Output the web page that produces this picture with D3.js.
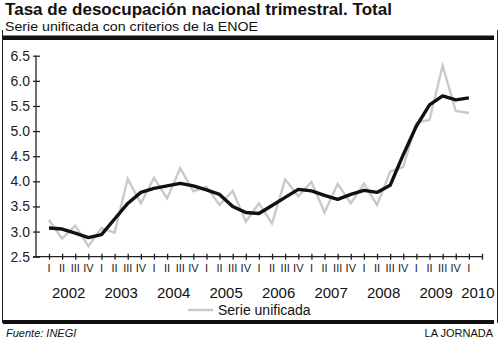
<!DOCTYPE html>
<html>
<head>
<meta charset="utf-8">
<script src="https://cdn.jsdelivr.net/npm/d3@7"></script>
<style>
  html, body { margin: 0; padding: 0; background: #fff; }
  svg { display: block; font-family: "Liberation Sans", Arial, Helvetica, sans-serif; }
</style>
</head>
<body>
<svg id="chart" width="500" height="340"></svg>
<script>
// Quarterly unemployment rate, 2002 Q1 – 2010 Q1
const years = ["2002", "2003", "2004", "2005", "2006", "2007", "2008", "2009", "2010"];
const quarterLabels = ["I", "II", "III", "IV"];

// Trend (seasonally smoothed) series, black line
const trendValues = [
  3.07, 3.05, 2.97, 2.88, 2.94, 3.25, 3.56, 3.78,
  3.86, 3.91, 3.96, 3.91, 3.83, 3.74, 3.50, 3.38,
  3.36, 3.52, 3.68, 3.84, 3.81, 3.72, 3.64, 3.74,
  3.82, 3.78, 3.92, 4.53, 5.10, 5.52, 5.70, 5.62,
  5.66
];

// Serie unificada (original quarterly figures), grey line
const seriesValues = [
  3.23, 2.86, 3.12, 2.71, 3.07, 2.98, 4.05, 3.56,
  4.07, 3.66, 4.26, 3.80, 3.89, 3.53, 3.81, 3.20,
  3.56, 3.16, 4.04, 3.70, 3.99, 3.38, 3.95, 3.56,
  3.95, 3.53, 4.19, 4.29, 5.17, 5.22, 6.30, 5.40,
  5.36
];

const yTicks = [2.5, 3.0, 3.5, 4.0, 4.5, 5.0, 5.5, 6.0, 6.5];
const legendLabel = "Serie unificada";
const titleText = "Tasa de desocupación nacional trimestral. Total";
const subtitleText = "Serie unificada con criterios de la ENOE";
const sourceText = "Fuente: INEGI";
const creditText = "LA JORNADA";

const svg = d3.select("#chart");

const nTicks = 34; // quarter tick marks along the x axis (one past the last data point)
const x = d3.scaleLinear().domain([0, nTicks - 1]).range([49, 482]);
const y = d3.scaleLinear().domain([2.5, 6.5]).range([256.7, 55.7]);

// Frame
svg.append("line").attr("x1", 2.5).attr("x2", 2.5).attr("y1", 30).attr("y2", 323)
  .attr("stroke", "#222").attr("stroke-width", 1);
svg.append("line").attr("x1", 497.5).attr("x2", 497.5).attr("y1", 30).attr("y2", 323)
  .attr("stroke", "#222").attr("stroke-width", 1);
svg.append("rect").attr("x", 3).attr("y", 35.5).attr("width", 491).attr("height", 4.5).attr("fill", "#111");
svg.append("rect").attr("x", 3).attr("y", 320).attr("width", 491).attr("height", 4).attr("fill", "#111");

// Titles
svg.append("text").attr("x", 5).attr("y", 15)
  .attr("font-size", 17).attr("font-weight", "bold").attr("fill", "#111")
  .attr("textLength", 387).attr("lengthAdjust", "spacingAndGlyphs")
  .text(titleText);
svg.append("text").attr("x", 5).attr("y", 30.5)
  .attr("font-size", 13.5).attr("fill", "#111")
  .attr("textLength", 253).attr("lengthAdjust", "spacingAndGlyphs")
  .text(subtitleText);

// Y axis
const yAxis = svg.append("g").attr("transform", "translate(36,0)")
  .call(d3.axisLeft(y).tickValues(yTicks).tickFormat(d3.format(".1f")).tickSize(3).tickPadding(3));
yAxis.select(".domain").attr("stroke", "#222").attr("stroke-width", 1.3).attr("d", `M0,${y(6.5)}V${y(2.5)}`);
yAxis.selectAll(".tick line").attr("x1", -3).attr("x2", 4).attr("stroke", "#222").attr("stroke-width", 1.3);
yAxis.selectAll(".tick text").attr("font-size", 14).attr("fill", "#222")
  .attr("font-family", "'Liberation Sans', Arial, sans-serif");

// X axis
const tickIdx = d3.range(nTicks);
const xAxis = svg.append("g").attr("transform", `translate(0,${y(2.5)})`)
  .call(d3.axisBottom(x).tickValues(tickIdx).tickFormat("").tickSize(3));
xAxis.select(".domain").attr("stroke", "#222").attr("stroke-width", 1.3).attr("d", `M33,0H482`);
xAxis.selectAll(".tick line").attr("y1", -3).attr("y2", 3).attr("stroke", "#222").attr("stroke-width", 1.3);

// Quarter labels (through 2010 Q1)
const nPoints = trendValues.length;
svg.append("g").selectAll("text").data(d3.range(nPoints)).join("text")
  .attr("x", d => x(d)).attr("y", 272)
  .attr("text-anchor", "middle").attr("font-size", 11).attr("fill", "#222")
  .attr("font-family", "'Liberation Sans Narrow', 'Liberation Sans', Arial, sans-serif")
  .text(d => quarterLabels[d % 4]);

// Year labels centred under their quarters
svg.append("g").selectAll("text").data(years).join("text")
  .attr("x", (d, i) => {
    const first = i * 4;
    const last = Math.min(i * 4 + 3, nTicks - 1);
    return i === years.length - 1 ? x(first) + 9 : (x(first) + x(last)) / 2;
  })
  .attr("y", 298)
  .attr("text-anchor", "middle").attr("font-size", 15).attr("fill", "#111")
  .attr("font-family", "'Liberation Sans Narrow', 'Liberation Sans', Arial, sans-serif")
  .text(d => d);

// Lines
const line = d3.line().x((d, i) => x(i)).y(d => y(d)).curve(d3.curveLinear);

svg.append("path").datum(seriesValues).attr("d", line)
  .attr("fill", "none").attr("stroke", "#c9c9c9").attr("stroke-width", 2.4)
  .attr("stroke-linejoin", "miter");

svg.append("path").datum(trendValues).attr("d", line)
  .attr("fill", "none").attr("stroke", "#111").attr("stroke-width", 3.4)
  .attr("stroke-linejoin", "round").attr("stroke-linecap", "butt");

// Legend
svg.append("line").attr("x1", 188).attr("x2", 213).attr("y1", 310).attr("y2", 310)
  .attr("stroke", "#c9c9c9").attr("stroke-width", 2.4);
svg.append("text").attr("x", 218).attr("y", 315)
  .attr("font-size", 14).attr("fill", "#111")
  .attr("font-family", "'Liberation Sans Narrow', 'Liberation Sans', Arial, sans-serif")
  .text(legendLabel);

// Footer
svg.append("text").attr("x", 6).attr("y", 337)
  .attr("font-size", 11).attr("font-style", "italic").attr("fill", "#111")
  .text(sourceText);
svg.append("text").attr("x", 493).attr("y", 337).attr("text-anchor", "end")
  .attr("font-size", 11).attr("fill", "#111")
  .text(creditText);
</script>
</body>
</html>
